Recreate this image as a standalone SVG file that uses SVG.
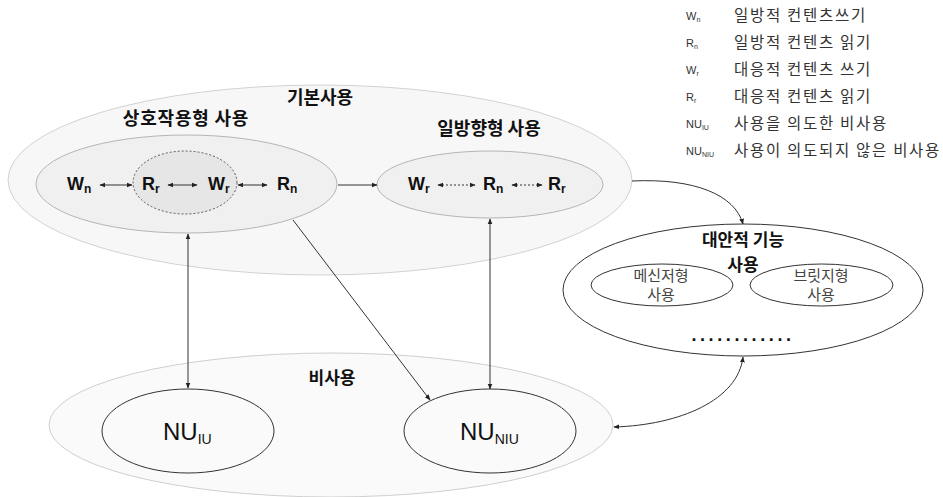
<svg xmlns="http://www.w3.org/2000/svg" width="943" height="497" viewBox="0 0 943 497">
<style>
text{font-family:"Liberation Sans","Noto Sans CJK KR",sans-serif;fill:#111}
.ko{font-family:"Noto Sans CJK KR","Liberation Sans",sans-serif}
.lbl{font-size:18px;font-weight:bold;text-anchor:middle}
.sym{font-size:18px;font-weight:bold}
.sym .s{font-size:12px}
.nu{font-size:24px}
.nu .s{font-size:14px}
.leg{font-size:15.5px;fill:#333;letter-spacing:1.7px}
.lab{font-size:11px;fill:#333}
.lab .s{font-size:7px}
.sub2{font-size:15px;fill:#444;text-anchor:middle}
.line{stroke:#333;stroke-width:1;fill:none}
.dot{stroke:#333;stroke-width:1;stroke-dasharray:2 2;fill:none}
</style>
<defs>
<marker id="ah" viewBox="0 0 10 10" refX="9" refY="5" markerWidth="6" markerHeight="6" orient="auto-start-reverse" markerUnits="userSpaceOnUse">
<path d="M0,1 L10,5 L0,9 z" fill="#222"/>
</marker>
</defs>

<g id="basic-use">
<ellipse cx="320" cy="180" rx="312" ry="95" fill="#f7f7f7" stroke="#d2d2d2"/>
<text class="lbl ko" x="320" y="104">기본사용</text>
</g>

<g id="interactive-use">
<text class="lbl ko" x="186" y="125" style="letter-spacing:0.8px">상호작용형 사용</text>
<ellipse cx="186.5" cy="184" rx="150.5" ry="49" fill="#f0f0f0" stroke="#b5b5b5"/>
<ellipse cx="185" cy="182.5" rx="52" ry="31.5" fill="#e6e6e6" stroke="#555" stroke-dasharray="2 2"/>
<text class="sym" x="67" y="190">W<tspan class="s" dy="3">n</tspan></text>
<text class="sym" x="142" y="190">R<tspan class="s" dy="3">r</tspan></text>
<text class="sym" x="208" y="190">W<tspan class="s" dy="3">r</tspan></text>
<text class="sym" x="277" y="190">R<tspan class="s" dy="3">n</tspan></text>
</g>

<g id="unidirectional-use">
<text class="lbl ko" x="489" y="135">일방향형 사용</text>
<ellipse cx="490" cy="184.5" rx="113" ry="33.5" fill="#f0f0f0" stroke="#b5b5b5"/>
<text class="sym" x="408" y="190">W<tspan class="s" dy="3">r</tspan></text>
<text class="sym" x="483" y="190">R<tspan class="s" dy="3">n</tspan></text>
<text class="sym" x="548" y="190">R<tspan class="s" dy="3">r</tspan></text>
</g>

<g id="alternative-use">
<ellipse cx="743" cy="290" rx="180" ry="66" fill="#fff" stroke="#333"/>
<ellipse cx="662" cy="285" rx="71" ry="21" fill="#fff" stroke="#333"/>
<ellipse cx="821.5" cy="285" rx="71.5" ry="21" fill="#fff" stroke="#333"/>
<text class="lbl ko" x="743" y="246" style="font-size:17px">대안적 기능</text>
<text class="lbl ko" x="743" y="271" style="font-size:17px">사용</text>
<text class="sub2 ko" x="661" y="281">메신저형</text>
<text class="sub2 ko" x="661" y="300">사용</text>
<text class="sub2 ko" x="821" y="281">브릿지형</text>
<text class="sub2 ko" x="821" y="300">사용</text>
<text x="743" y="341" style="font-size:18px;font-weight:bold;text-anchor:middle;letter-spacing:3.6px">............</text>
</g>

<g id="non-use">
<ellipse cx="331" cy="425" rx="282" ry="72" fill="#fafafa" stroke="#cfcfcf"/>
<text class="lbl ko" x="332" y="384" style="font-size:17px">비사용</text>
</g>

<g id="nu-iu">
<ellipse cx="188" cy="431" rx="86" ry="42" fill="#fafafa" stroke="#333"/>
<text class="nu" x="163" y="440">NU<tspan class="s" dy="4">IU</tspan></text>
</g>

<g id="nu-niu">
<ellipse cx="490" cy="431" rx="86" ry="42" fill="#fafafa" stroke="#333"/>
<text class="nu" x="460" y="440">NU<tspan class="s" dy="4">NIU</tspan></text>
</g>

<g id="connectors">
<line class="line" x1="100" y1="185" x2="132" y2="185" marker-start="url(#ah)" marker-end="url(#ah)"/>
<line class="line" x1="168" y1="185" x2="197" y2="185" marker-start="url(#ah)" marker-end="url(#ah)"/>
<line class="line" x1="238" y1="185" x2="267" y2="185" marker-start="url(#ah)" marker-end="url(#ah)"/>
<line class="dot" x1="438" y1="185" x2="475" y2="185" marker-start="url(#ah)" marker-end="url(#ah)"/>
<line class="dot" x1="512" y1="185" x2="542" y2="185" marker-start="url(#ah)" marker-end="url(#ah)"/>
<line class="line" x1="338" y1="185" x2="377" y2="185" marker-end="url(#ah)"/>
<line class="line" x1="188" y1="234" x2="188" y2="388" marker-start="url(#ah)" marker-end="url(#ah)"/>
<line class="line" x1="490" y1="219" x2="490" y2="389" marker-start="url(#ah)" marker-end="url(#ah)"/>
<line class="line" x1="293" y1="220" x2="430" y2="400" marker-end="url(#ah)"/>
<path class="line" d="M632,181 C695,178 735,195 743,224" marker-end="url(#ah)"/>
<path class="line" d="M743,357 C738,400 680,425 614,427" marker-start="url(#ah)" marker-end="url(#ah)"/>
</g>

<g id="legend">
<text class="lab" x="686" y="20">W<tspan class="s" dy="2">n</tspan></text>
<text class="leg ko" x="734" y="21">일방적 컨텐츠쓰기</text>
<text class="lab" x="686" y="47">R<tspan class="s" dy="2">n</tspan></text>
<text class="leg ko" x="734" y="48">일방적 컨텐츠 읽기</text>
<text class="lab" x="686" y="74">W<tspan class="s" dy="2">r</tspan></text>
<text class="leg ko" x="734" y="75">대응적 컨텐츠 쓰기</text>
<text class="lab" x="686" y="101">R<tspan class="s" dy="2">r</tspan></text>
<text class="leg ko" x="734" y="102">대응적 컨텐츠 읽기</text>
<text class="lab" x="686" y="128">NU<tspan class="s" dy="2">IU</tspan></text>
<text class="leg ko" x="734" y="129">사용을 의도한 비사용</text>
<text class="lab" x="686" y="155">NU<tspan class="s" dy="2">NIU</tspan></text>
<text class="leg ko" x="734" y="156">사용이 의도되지 않은 비사용</text>
</g>
</svg>
